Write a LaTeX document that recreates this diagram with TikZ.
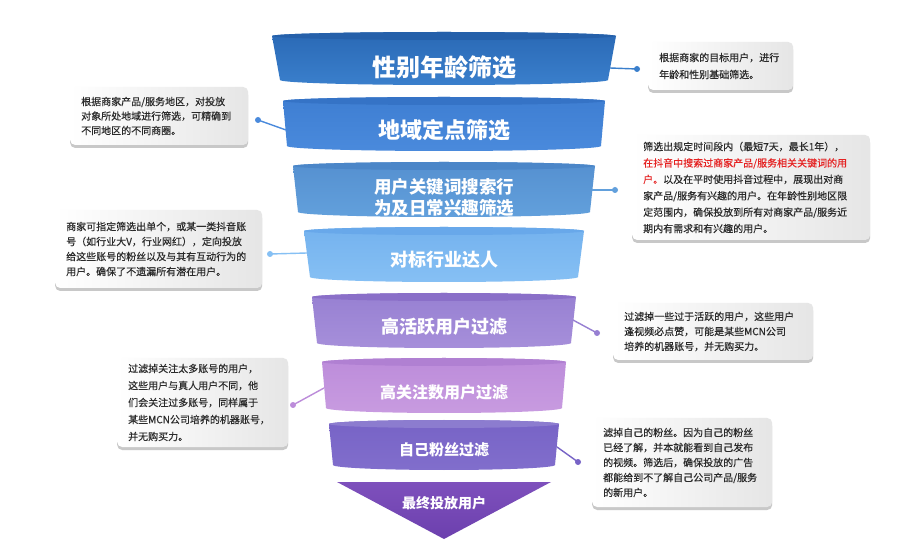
\documentclass[tikz,border=0pt]{standalone}
\usepackage{fontspec}
\setmainfont{Noto Sans CJK SC}
\newfontfamily\boxfont{Noto Sans CJK SC}[FakeBold=0.35]
\usetikzlibrary{shadows}
\definecolor{laTop}{HTML}{2A69B5}\definecolor{laBot}{HTML}{3A7FCC}\definecolor{laEll}{HTML}{2560AA}
\definecolor{lbTop}{HTML}{3E7ED2}\definecolor{lbBot}{HTML}{4A8ADC}\definecolor{lbEll}{HTML}{3573C6}
\definecolor{lcTop}{HTML}{5590D0}\definecolor{lcBot}{HTML}{62A0DC}\definecolor{lcEll}{HTML}{4B86C8}
\definecolor{ldTop}{HTML}{74B2EE}\definecolor{ldBot}{HTML}{86C0F4}\definecolor{ldEll}{HTML}{68A8EA}
\definecolor{leTop}{HTML}{9780D2}\definecolor{leBot}{HTML}{A68FDA}\definecolor{leEll}{HTML}{8A6FC8}
\definecolor{lfTop}{HTML}{BC8CDA}\definecolor{lfBot}{HTML}{C89BE0}\definecolor{lfEll}{HTML}{B080D2}
\definecolor{lgTop}{HTML}{7763C6}\definecolor{lgBot}{HTML}{816ECC}\definecolor{lgEll}{HTML}{8C7CCF}
\definecolor{lhTop}{HTML}{7E50BC}\definecolor{lhBot}{HTML}{6C40AE}
\definecolor{txtgray}{HTML}{2A2A2A}
\definecolor{redtxt}{HTML}{E52222}
\newcommand\fnlayer[7]{%
  \shade[top color=#5, bottom color=#6] ({444-#3},#1) -- ({444-#4},#2)
    arc[start angle=180,end angle=360,x radius=#4pt,y radius=5pt]
    -- ({444+#3},#1)
    arc[start angle=0,end angle=180,x radius=#3pt,y radius=4pt] -- cycle;
  \fill[#7] (444,#1) ellipse[x radius=#3pt, y radius=4pt];}
\begin{document}
\begin{tikzpicture}[x=1pt,y=-1pt,
  lt/.style={text=white, inner sep=0pt, align=center},
  callbox/.style={rounded corners=5pt, left color=white, right color=black!10,
    drop shadow={shadow xshift=0pt,shadow yshift=-3pt,opacity=0.3,fill=black!70},
    text=txtgray, align=left, inner xsep=11pt, inner ysep=0pt, anchor=west},
  dotn/.style={circle, inner sep=0pt, minimum size=6pt},
  conn/.style={line width=1.4pt}]
\useasboundingbox (0,0) rectangle (911,553);
\fill[white] (0,0) rectangle (911,553);

% funnel layers
\fnlayer{36}{80}{172}{164}{laTop}{laBot}{laEll}
\fnlayer{101}{146}{161}{157}{lbTop}{lbBot}{lbEll}
\fnlayer{166}{212}{151}{146}{lcTop}{lcBot}{lcEll}
\fnlayer{231}{277}{140}{134}{ldTop}{ldBot}{ldEll}
\fnlayer{297}{343}{132}{127}{leTop}{leBot}{leEll}
\fnlayer{362}{408}{122}{118}{lfTop}{lfBot}{lfEll}
\fnlayer{424}{465}{115}{111}{lgTop}{lgBot}{lgEll}
\shade[top color=lhTop, bottom color=lhBot] (337,482) -- (551,482) -- (444,539) -- cycle;

% layer texts
\node[lt, font=\bfseries\fontsize{24}{24}\selectfont] (t1) at (444,67) {性别年龄筛选};
\node[lt, font=\bfseries\fontsize{22}{22}\selectfont] (t2) at (444,130) {地域定点筛选};
\node[lt, font=\bfseries\fontsize{17.5}{21}\selectfont] (t3) at (444,197) {用户关键词搜索行\\为及日常兴趣筛选};
\node[lt, font=\bfseries\fontsize{18}{18}\selectfont] (t4) at (444,260) {对标行业达人};
\node[lt, font=\bfseries\fontsize{18}{18}\selectfont] (t5) at (444,327) {高活跃用户过滤};
\node[lt, font=\bfseries\fontsize{16}{16}\selectfont] (t6) at (444,392) {高关注数用户过滤};
\node[lt, font=\bfseries\fontsize{15}{15}\selectfont] (t7) at (444,450) {自己粉丝过滤};
\node[lt, font=\bfseries\fontsize{14}{14}\selectfont] (t8) at (444,503) {最终投放用户};

% callout boxes
\node[callbox, text width=123pt, minimum height=48pt, font=\boxfont\fontsize{10}{17}\selectfont] (b1) at (648,66)
  {根据商家的目标用户，进行\\年龄和性别基础筛选。};
\node[callbox, text width=156pt, minimum height=58pt, font=\boxfont\fontsize{10}{14.5}\selectfont] (b2) at (70,116)
  {根据商家产品/服务地区，对投放\\对象所处地域进行筛选，可精确到\\不同地区的不同商圈。};
\node[callbox, text width=216pt, minimum height=105pt, font=\boxfont\fontsize{10}{16.4}\selectfont] (b3) at (632,187.5)
  {筛选出规定时间段内（最短7天，最长1年），\\
   {\color{redtxt}在抖音中搜索过商家产品/服务相关关键词的用}\\
   {\color{redtxt}户。}以及在平时使用抖音过程中，展现出对商\\
   家产品/服务有兴趣的用户。在年龄性别地区限\\
   定范围内，确保投放到所有对商家产品/服务近\\
   期内有需求和有兴趣的用户。};
\node[callbox, text width=185pt, minimum height=78pt, font=\boxfont\fontsize{10}{15}\selectfont] (b4) at (55,249)
  {商家可指定筛选出单个，或某一类抖音账\\号（如行业大V，行业网红），定向投放\\给这些账号的粉丝以及与其有互动行为的\\用户。确保了不遗漏所有潜在用户。};
\node[callbox, text width=178pt, minimum height=57pt, font=\boxfont\fontsize{10}{15}\selectfont] (b5) at (613,331.5)
  {过滤掉一些过于活跃的用户，这些用户\\逢视频必点赞，可能是某些MCN公司\\培养的机器账号，并无购买力。};
\node[callbox, text width=149pt, minimum height=89pt, font=\boxfont\fontsize{10}{17}\selectfont] (b6) at (117,402.5)
  {过滤掉关注太多账号的用户，\\这些用户与真人用户不同，他\\们会关注过多账号，同样属于\\某些MCN公司培养的机器账号，\\并无购买力。};
\node[callbox, text width=158pt, minimum height=89pt, font=\boxfont\fontsize{10}{15}\selectfont] (b7) at (592,462.5)
  {滤掉自己的粉丝。因为自己的粉丝\\已经了解，并本就能看到自己发布\\的视频。筛选后，确保投放的广告\\都能给到不了解自己公司产品/服务\\的新用户。};

% connectors
\coordinate (e1) at (610,68);
\coordinate (e2) at (286,130);
\coordinate (e3) at (592,190);
\coordinate (e4) at (307,253);
\coordinate (e5) at (573,320);
\coordinate (e6) at (324,388);
\coordinate (e7) at (557,447);
\node[dotn, fill=laBot] (d1) at (637,69) {};
\node[dotn, fill=lbBot] (d2) at (258,120) {};
\node[dotn, fill=lcBot] (d3) at (615,190) {};
\node[dotn, fill=ldBot] (d4) at (270,254) {};
\node[dotn, fill=leTop] (d5) at (597,333) {};
\node[dotn, fill=lfTop] (d6) at (293,405) {};
\node[dotn, fill=lgTop] (d7) at (578,462) {};
\draw[conn, laBot] (e1) -- (d1.center);
\draw[conn, lbBot] (e2) -- (d2.center);
\draw[conn, lcBot] (e3) -- (d3.center);
\draw[conn, ldBot] (e4) -- (d4.center);
\draw[conn, leTop] (e5) -- (d5.center);
\draw[conn, lfTop] (e6) -- (d6.center);
\draw[conn, lgTop] (e7) -- (d7.center);
\end{tikzpicture}
\end{document}
